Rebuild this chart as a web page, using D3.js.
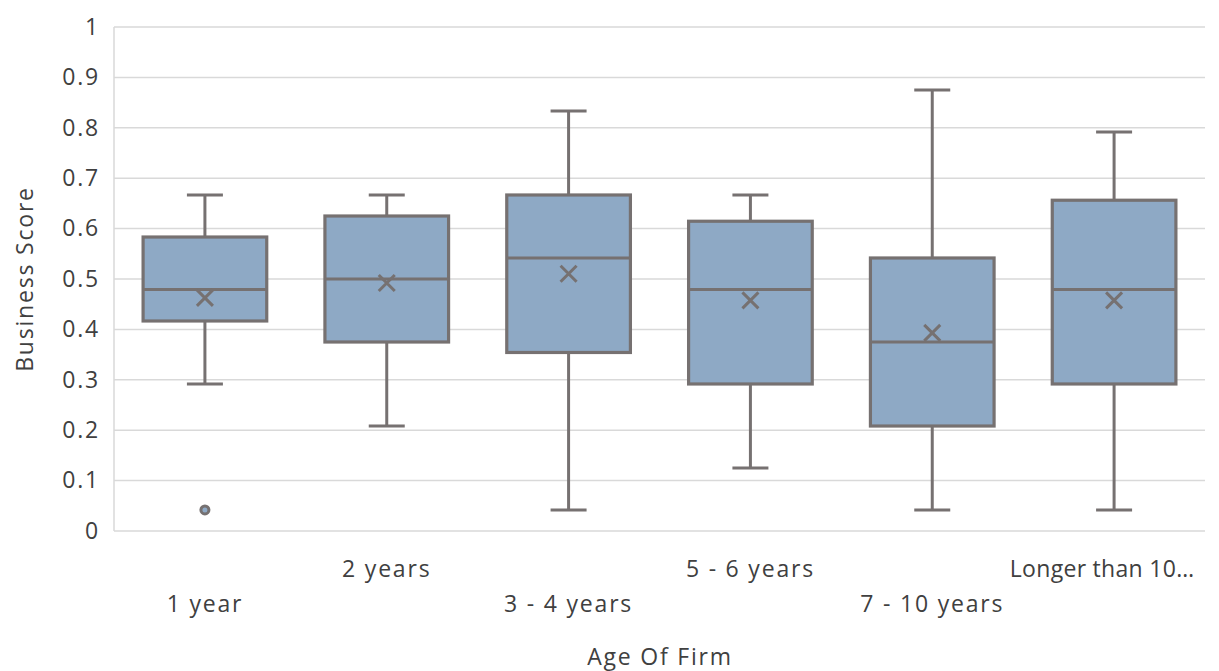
<!DOCTYPE html>
<html>
<head>
<meta charset="utf-8">
<script src="https://cdn.jsdelivr.net/npm/d3@7/dist/d3.min.js"></script>
<style>
  html, body { margin: 0; padding: 0; background: #ffffff; }
  svg { display: block; }
  text { font-family: "Open Sans", "Noto Sans", sans-serif; font-weight: 400; fill: #404040; letter-spacing: 1.8px; }
</style>
</head>
<body>
<svg id="chart" width="1219" height="671"></svg>
<script>
// Business score distribution by age of firm
const categories = ["1 year", "2 years", "3 - 4 years", "5 - 6 years", "7 - 10 years", "Longer than 10 years"];
const tickLabels = ["1 year", "2 years", "3 - 4 years", "5 - 6 years", "7 - 10 years", "Longer than 10…"];
const whiskerLow  = [0.2917, 0.2083, 0.0417, 0.125,  0.0417, 0.0417];
const q1          = [0.4167, 0.375,  0.3542, 0.2917, 0.2083, 0.2917];
const median      = [0.4792, 0.5,    0.5417, 0.4792, 0.375,  0.4792];
const q3          = [0.5833, 0.625,  0.6667, 0.6146, 0.5417, 0.6563];
const whiskerHigh = [0.6667, 0.6667, 0.8333, 0.6667, 0.875,  0.7917];
const means       = [0.4625, 0.492,  0.5104, 0.4576, 0.393,  0.4576];
const outliers    = [[0.0417], [], [], [], [], []];
const yTicks = [0, 0.1, 0.2, 0.3, 0.4, 0.5, 0.6, 0.7, 0.8, 0.9, 1];

const W = 1219, H = 671;
const margin = { top: 27, right: 14, bottom: 140, left: 114 };
const svg = d3.select("#chart");

const x = d3.scaleBand().domain(categories).range([margin.left, W - margin.right]).paddingInner(0).paddingOuter(0);
const y = d3.scaleLinear().domain([0, 1]).range([H - margin.bottom, margin.top]);

const strokeCol = "#767171";
const fillCol = "#8ea9c5";
const gridCol = "#d9d9d9";

// gridlines
svg.append("g")
  .selectAll("line").data(yTicks).join("line")
  .attr("x1", margin.left).attr("x2", W - margin.right)
  .attr("y1", d => y(d)).attr("y2", d => y(d))
  .attr("stroke", gridCol).attr("stroke-width", 1.5);

// left axis line
svg.append("line")
  .attr("x1", margin.left).attr("x2", margin.left)
  .attr("y1", y(1)).attr("y2", y(0))
  .attr("stroke", gridCol).attr("stroke-width", 1.5);

// y axis labels
const yAxis = d3.axisLeft(y).tickValues(yTicks).tickFormat(d3.format("~g")).tickSize(0).tickPadding(14);
const yg = svg.append("g").attr("transform", `translate(${margin.left},0)`).call(yAxis);
yg.select(".domain").remove();
yg.selectAll("text").style("font-size", "23px").attr("fill", "#404040");

// x axis labels, staggered on two rows
const last = categories.length - 1;
const xAxis = d3.axisBottom(x).tickSize(0).tickFormat((d, i) => tickLabels[i]);
const xg = svg.append("g").attr("transform", `translate(0,${y(0)})`).call(xAxis);
xg.select(".domain").remove();
xg.selectAll("text")
  .style("font-size", "23px").attr("fill", "#404040")
  .attr("y", (d, i) => i % 2 === 0 ? 73 : 38)
  .attr("dx", (d, i) => i === last ? -12 : 0)
  .style("letter-spacing", (d, i) => i === last ? "0.3px" : null)
  .attr("dy", "0.35em");
svg.selectAll("g").attr("font-family", null).attr("font-size", null);

const boxW = x.bandwidth() * 0.68;
const capW = 36;
const rows = categories.map((c, i) => ({
  c, lo: whiskerLow[i], q1: q1[i], med: median[i], q3: q3[i], hi: whiskerHigh[i], mean: means[i], out: outliers[i]
}));

const g = svg.append("g");
rows.forEach(r => {
  const cx = x(r.c) + x.bandwidth() / 2;
  const bg = g.append("g");
  // whiskers
  bg.append("line").attr("x1", cx).attr("x2", cx).attr("y1", y(r.q3)).attr("y2", y(r.hi))
    .attr("stroke", strokeCol).attr("stroke-width", 3);
  bg.append("line").attr("x1", cx).attr("x2", cx).attr("y1", y(r.q1)).attr("y2", y(r.lo))
    .attr("stroke", strokeCol).attr("stroke-width", 3);
  bg.append("line").attr("x1", cx - capW / 2).attr("x2", cx + capW / 2).attr("y1", y(r.hi)).attr("y2", y(r.hi))
    .attr("stroke", strokeCol).attr("stroke-width", 3);
  bg.append("line").attr("x1", cx - capW / 2).attr("x2", cx + capW / 2).attr("y1", y(r.lo)).attr("y2", y(r.lo))
    .attr("stroke", strokeCol).attr("stroke-width", 3);
  // box
  bg.append("rect").attr("x", cx - boxW / 2).attr("width", boxW)
    .attr("y", y(r.q3)).attr("height", y(r.q1) - y(r.q3))
    .attr("fill", fillCol).attr("stroke", strokeCol).attr("stroke-width", 3.2);
  // median
  bg.append("line").attr("x1", cx - boxW / 2).attr("x2", cx + boxW / 2).attr("y1", y(r.med)).attr("y2", y(r.med))
    .attr("stroke", strokeCol).attr("stroke-width", 3.2);
  // mean marker
  const s = 8;
  const my = y(r.mean);
  bg.append("path")
    .attr("d", `M${cx - s},${my - s}L${cx + s},${my + s}M${cx - s},${my + s}L${cx + s},${my - s}`)
    .attr("stroke", strokeCol).attr("stroke-width", 3).attr("fill", "none");
  // outliers
  r.out.forEach(v => {
    bg.append("circle").attr("cx", cx).attr("cy", y(v)).attr("r", 4)
      .attr("fill", fillCol).attr("stroke", strokeCol).attr("stroke-width", 3);
  });
});

// axis titles
svg.append("text")
  .attr("transform", `translate(25,${(y(0) + y(1)) / 2}) rotate(-90)`)
  .attr("text-anchor", "middle").attr("dy", "0.35em")
  .style("font-size", "23px").text("Business Score");

svg.append("text")
  .attr("x", 660).attr("y", 657)
  .attr("text-anchor", "middle").attr("dy", "0.35em")
  .style("font-size", "23px").text("Age Of Firm");
</script>
</body>
</html>
